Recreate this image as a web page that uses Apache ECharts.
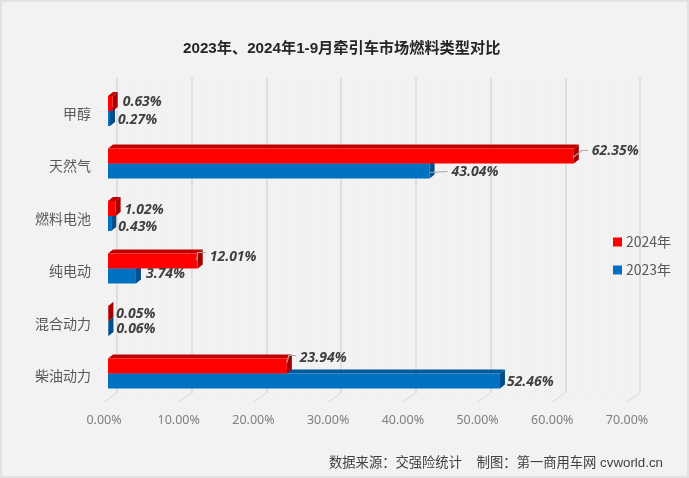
<!DOCTYPE html>
<html>
<head>
<meta charset="utf-8">
<style>
html, body { margin: 0; padding: 0; background: #fff; }
#chart { width: 689px; height: 478px; }
</style>
<script src="https://cdn.jsdelivr.net/npm/echarts@6/dist/echarts.min.js"></script>
</head>
<body>
<div id="chart"></div>
<script>
const categories = ['甲醇', '天然气', '燃料电池', '纯电动', '混合动力', '柴油动力'];
const share2024 = [0.63, 62.35, 1.02, 12.01, 0.05, 23.94];
const share2023 = [0.27, 43.04, 0.43, 3.74, 0.06, 52.46];

//label placement per bar: text offset from bar end / band centre, optional leader line
const labels2024 = [
    { dx: 10, dy: -9 },
    { dx: 18, dy: -12, leader: [[-1, -6], [8, -13], [14, -13]] },
    { dx: 9, dy: -6 },
    { dx: 12, dy: -11, leader: [[-1, -8], [0, -16], [8, -16]] },
    { dx: 8, dy: -7 },
    { dx: 13, dy: -15, leader: [[0, -11], [2, -18], [9, -18]] }
];
const labels2023 = [
    { dx: 8, dy: 9 },
    { dx: 22, dy: 9, leader: [[0, 9], [18, 8]] },
    { dx: 7, dy: 11 },
    { dx: 10, dy: 6 },
    { dx: 8, dy: 8 },
    { dx: 7, dy: 9 }
];

const DEPTH_X = 5;
const DEPTH_Y = 4;
const BAR_RATIO = 15 / 52.5;

const barSeries = function (name, values, below, labelConf, colors) {
    return {
        name: name,
        type: 'custom',
        xAxisIndex: 2,
        yAxisIndex: 2,
        z: 5,
        clip: false,
        itemStyle: { color: colors.front },
        data: values.map(function (v, i) { return [v, i]; }),
        encode: { x: 0, y: 1 },
        renderItem: function (params, api) {
            const i = api.value(1);
            const center = api.coord([0, i]);
            const end = api.coord([api.value(0), i]);
            const h = api.size([0, 1])[1] * BAR_RATIO;
            const x0 = center[0];
            const x1 = end[0];
            const y0 = below ? center[1] : center[1] - h;
            const y1 = y0 + h;
            const conf = labelConf[i];
            const children = [
                {
                    type: 'polygon',
                    shape: { points: [[x0, y0], [x1, y0], [x1 + DEPTH_X, y0 - DEPTH_Y], [x0 + DEPTH_X, y0 - DEPTH_Y]] },
                    style: { fill: colors.top }
                },
                {
                    type: 'polygon',
                    shape: { points: [[x1, y0], [x1 + DEPTH_X, y0 - DEPTH_Y], [x1 + DEPTH_X, y1 - DEPTH_Y], [x1, y1]] },
                    style: { fill: colors.side }
                },
                {
                    type: 'rect',
                    shape: { x: x0, y: y0, width: x1 - x0, height: h },
                    style: { fill: colors.front }
                }
            ];
            if (conf.leader) {
                children.push({
                    type: 'polyline',
                    z2: 20,
                    shape: {
                        points: conf.leader.map(function (p) {
                            return [x1 + p[0], center[1] + p[1]];
                        })
                    },
                    style: { fill: 'none', stroke: '#a6a6a6', lineWidth: 1.2 }
                });
            }
            children.push({
                type: 'text',
                z2: 30,
                x: x1 + conf.dx,
                y: center[1] + conf.dy,
                style: {
                    text: values[i].toFixed(2) + '%',
                    fill: '#404040',
                    font: 'italic bold 14px "Open Sans", sans-serif',
                    align: 'left',
                    verticalAlign: 'middle'
                }
            });
            return { type: 'group', children: children };
        }
    };
};

//floor lines run from the back wall towards the front edge, every 2%
const floorTicks = [];
for (let t = 0; t <= 70; t += 2) {
    floorTicks.push([t, 0]);
}

const chart = echarts.init(document.getElementById('chart'));
chart.setOption({
    backgroundColor: '#f2f2f2',
    animation: false,
    graphic: [
        {
            type: 'rect',
            silent: true,
            shape: { x: 1, y: 1, width: 687, height: 476 },
            style: { fill: 'none', stroke: '#e2e2e2', lineWidth: 2 }
        }
    ],
    title: [
        {
            text: '2023年、2024年1-9月牵引车市场燃料类型对比',
            left: 178,
            top: 36,
            textStyle: {
                fontFamily: '"Liberation Sans", "Noto Sans CJK SC", sans-serif',
                fontSize: 15.2,
                fontWeight: 'bold',
                color: '#262626'
            }
        },
        {
            text: '数据来源：交强险统计    制图：第一商用车网 cvworld.cn',
            left: 324,
            top: 452,
            textStyle: {
                fontFamily: '"Liberation Sans", "Noto Sans CJK SC", sans-serif',
                fontSize: 13.3,
                fontWeight: 'normal',
                color: '#404040'
            }
        }
    ],
    legend: {
        data: ['2024年', '2023年'],
        orient: 'vertical',
        left: 608,
        top: 230,
        itemWidth: 9,
        itemHeight: 9,
        itemGap: 14,
        icon: 'rect',
        selectedMode: false,
        textStyle: {
            fontFamily: '"Noto Sans CJK SC", sans-serif',
            fontSize: 14,
            color: '#595959',
            padding: [0, 0, 0, -1]
        }
    },
    grid: [
        { left: 104, width: 523, top: 87.25, height: 315 },
        { left: 117, width: 523, top: 78, height: 315 },
        { left: 108, width: 523, top: 84.75, height: 315 }
    ],
    xAxis: [
        {
            gridIndex: 0,
            type: 'value',
            min: 0,
            max: 70,
            interval: 10,
            axisLine: { show: false },
            axisTick: { show: false },
            splitLine: { show: false },
            axisLabel: {
                margin: 12,
                formatter: function (v) { return v.toFixed(2) + '%'; },
                fontFamily: '"Noto Sans", sans-serif',
                fontSize: 12.5,
                color: '#7f7f7f'
            }
        },
        {
            gridIndex: 1,
            type: 'value',
            min: 0,
            max: 70,
            interval: 10,
            axisLine: { show: false },
            axisTick: { show: false },
            axisLabel: { show: false },
            splitLine: { show: true, lineStyle: { color: '#d9d9d9', width: 1.5 } },
            minorSplitLine: { show: true, lineStyle: { color: '#efefef', width: 1 } },
            minorTick: { show: false, splitNumber: 5 }
        },
        {
            gridIndex: 2,
            type: 'value',
            min: 0,
            max: 70,
            interval: 10,
            show: false
        }
    ],
    yAxis: [
        {
            gridIndex: 0,
            type: 'category',
            data: categories,
            inverse: true,
            axisLine: { show: false },
            axisTick: { show: false },
            splitLine: { show: false },
            axisLabel: {
                margin: 13,
                fontFamily: '"Noto Sans CJK SC", sans-serif',
                fontSize: 14,
                color: '#595959'
            }
        },
        { gridIndex: 1, type: 'category', data: categories, show: false },
        { gridIndex: 2, type: 'category', data: categories, inverse: true, show: false }
    ],
    series: [
        {
            type: 'custom',
            xAxisIndex: 1,
            yAxisIndex: 1,
            z: 1,
            clip: false,
            silent: true,
            data: floorTicks,
            encode: { x: 0 },
            renderItem: function (params, api) {
                const v = api.value(0);
                const p = api.coord([v, 0]);
                const bottom = params.coordSys.y + params.coordSys.height;
                return {
                    type: 'line',
                    shape: { x1: p[0], y1: bottom, x2: p[0] - 13, y2: bottom + 9 },
                    style: { stroke: v % 10 === 0 ? '#d9d9d9' : '#efefef', lineWidth: 1 }
                };
            }
        },
        barSeries('2023年', share2023, true, labels2023, { front: '#0070c0', top: '#005a9e', side: '#004f8a' }),
        barSeries('2024年', share2024, false, labels2024, { front: '#ff0000', top: '#c00000', side: '#a50000' })
    ]
});
</script>
</body>
</html>
